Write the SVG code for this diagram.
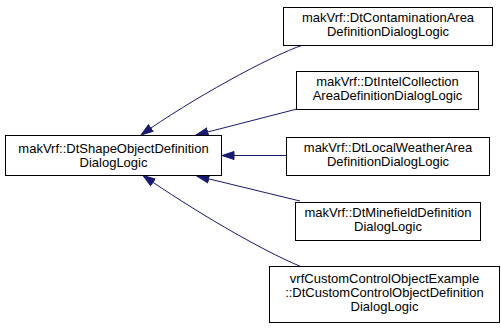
<svg xmlns="http://www.w3.org/2000/svg" width="501" height="328" viewBox="0 0 501 328">
<defs>
<style>
.box{fill:#ffffff;stroke:#000000;stroke-width:1}
.t{font-family:"Liberation Sans",Arial,sans-serif;font-size:13px;fill:#000000;text-anchor:middle}
.e{fill:none;stroke:#191970;stroke-width:1}
</style>
<marker id="ah" markerUnits="userSpaceOnUse" markerWidth="14" markerHeight="10" refX="12.5" refY="5" orient="auto">
<path d="M0.5,1 L12.5,5 L0.5,9 z" fill="#191970" stroke="#191970" stroke-width="1"/>
</marker>
</defs>
<rect x="0" y="0" width="501" height="328" fill="#ffffff"/>
<g id="edges">
<path class="e" d="M303,45 C270,56 190,100 141,135" marker-end="url(#ah)"/>
<path class="e" d="M297,109 L196,135" marker-end="url(#ah)"/>
<path class="e" d="M286,155.5 L222,155.5" marker-end="url(#ah)"/>
<path class="e" d="M300,201 L197,176" marker-end="url(#ah)"/>
<path class="e" d="M302,267 C260,250 190,208 143,175.5" marker-end="url(#ah)"/>
</g>
<g id="node-base">
<rect class="box" x="5.5" y="135.5" width="216" height="40"/>
<text class="t" x="113.5" y="153">makVrf::DtShapeObjectDefinition</text>
<text class="t" x="113.5" y="167">DialogLogic</text>
</g>
<g id="node-contamination">
<rect class="box" x="283.5" y="7.5" width="209" height="38"/>
<text class="t" x="388" y="22">makVrf::DtContaminationArea</text>
<text class="t" x="388" y="36">DefinitionDialogLogic</text>
</g>
<g id="node-intel">
<rect class="box" x="296.5" y="71.5" width="182" height="38"/>
<text class="t" x="387.5" y="86">makVrf::DtIntelCollection</text>
<text class="t" x="387.5" y="100">AreaDefinitionDialogLogic</text>
</g>
<g id="node-weather">
<rect class="box" x="286.5" y="137.5" width="203" height="38"/>
<text class="t" x="388" y="152">makVrf::DtLocalWeatherArea</text>
<text class="t" x="388" y="166">DefinitionDialogLogic</text>
</g>
<g id="node-minefield">
<rect class="box" x="295.5" y="202.5" width="185" height="38"/>
<text class="t" x="388" y="217">makVrf::DtMinefieldDefinition</text>
<text class="t" x="388" y="231">DialogLogic</text>
</g>
<g id="node-custom">
<rect class="box" x="269.5" y="266.5" width="230" height="56"/>
<text class="t" x="384.5" y="283">vrfCustomControlObjectExample</text>
<text class="t" x="384.5" y="297">::DtCustomControlObjectDefinition</text>
<text class="t" x="384.5" y="311">DialogLogic</text>
</g>
</svg>
